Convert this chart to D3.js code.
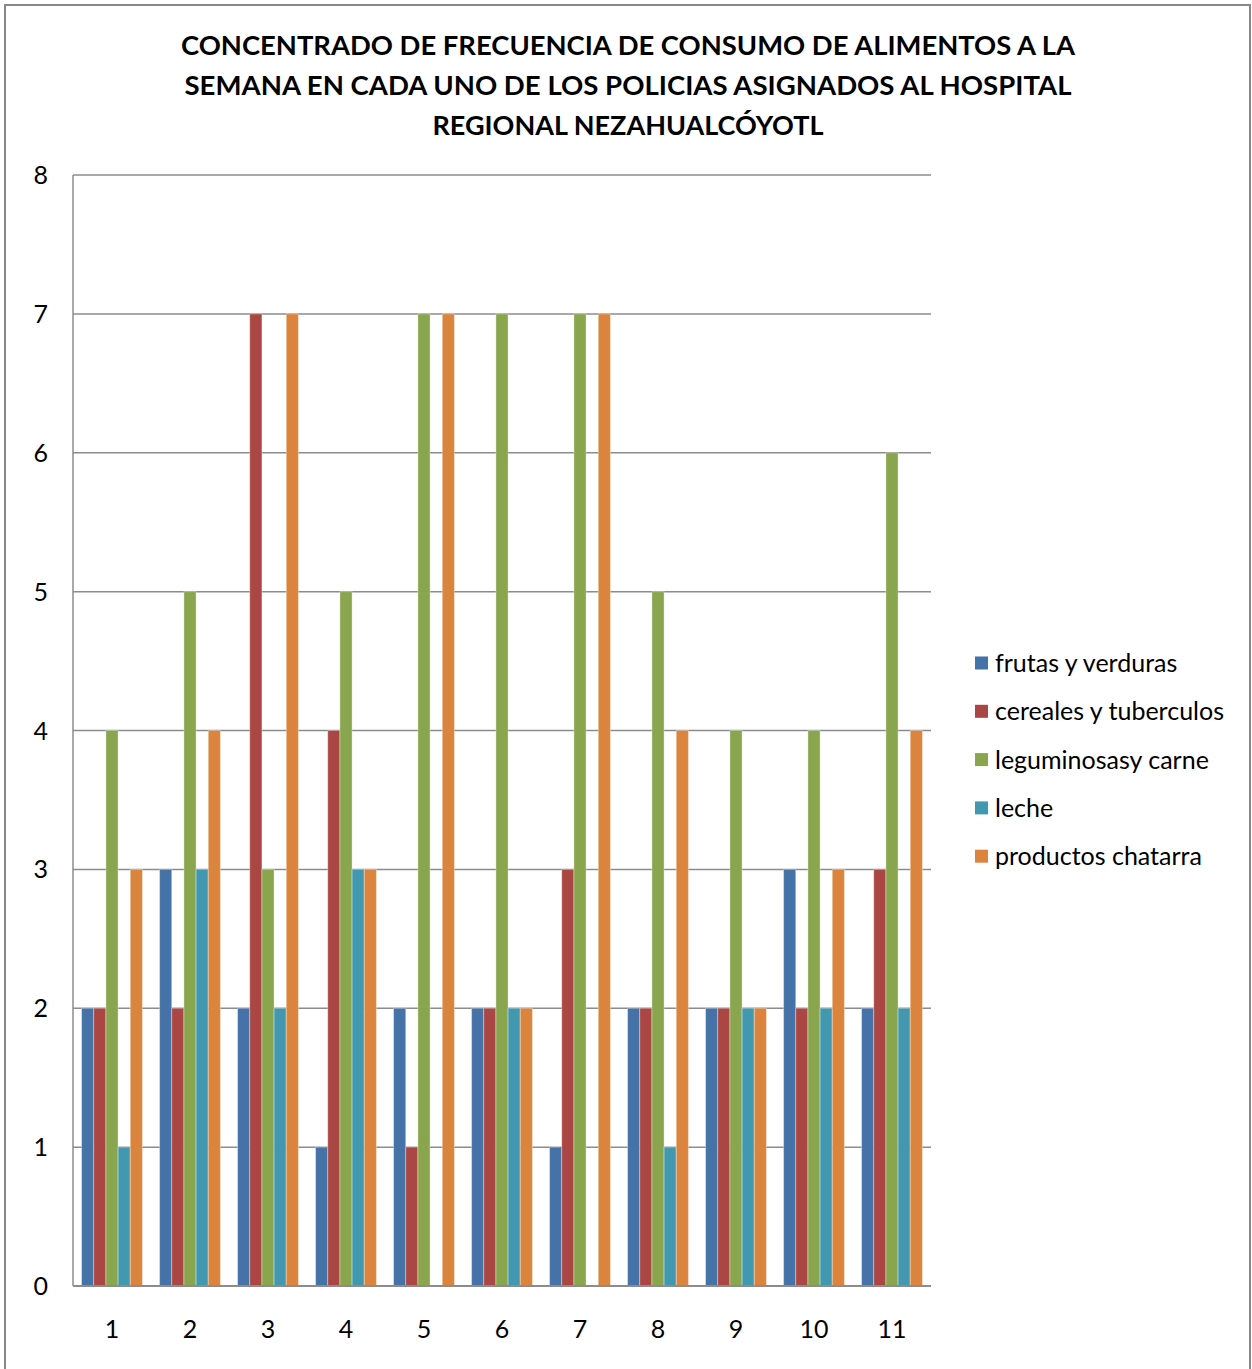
<!DOCTYPE html>
<html><head><meta charset="utf-8">
<script src="https://cdn.jsdelivr.net/npm/d3@7"></script>
<style>body{margin:0;background:#fff}svg{display:block}</style>
</head><body>
<svg id="c" width="1252" height="1369"></svg>
<script>
const categories = ["1","2","3","4","5","6","7","8","9","10","11"];
const seriesNames = ["frutas y verduras","cereales y tuberculos","leguminosasy carne","leche","productos chatarra"];
const frutas   = [2,3,2,1,2,2,1,2,2,3,2];
const cereales = [2,2,7,4,1,2,3,2,2,2,3];
const legumin  = [4,5,3,5,7,7,7,5,4,4,6];
const leche    = [1,3,2,3,0,2,0,1,2,2,2];
const chatarra = [3,4,7,3,7,2,7,4,2,3,4];
const yTicks = [0,1,2,3,4,5,6,7,8];
const titleLines = ["CONCENTRADO DE FRECUENCIA DE CONSUMO DE ALIMENTOS A LA","SEMANA EN CADA UNO DE LOS POLICIAS ASIGNADOS AL HOSPITAL","REGIONAL NEZAHUALCÓYOTL"];
const colors = ["#4572A7","#AA4643","#89A54E","#4198AF","#DB843D"];
const seriesVals = [frutas,cereales,legumin,leche,chatarra];

const svg = d3.select("#c");
const font = "Lato, 'Open Sans', 'Liberation Sans', sans-serif";
// outer border
svg.append("rect").attr("x",5).attr("y",5).attr("width",1245).attr("height",1375)
  .attr("fill","none").attr("stroke","#888").attr("stroke-width",2);

const L=73,R=931,T=175,B=1286;
const x = d3.scaleBand().domain(categories).range([L,R]).paddingInner(0.22).paddingOuter(0.11);
const x1 = d3.scaleBand().domain(d3.range(5)).range([0,x.bandwidth()]);
const y = d3.scaleLinear().domain([0,8]).range([B,T]);

// gridlines
svg.append("g").selectAll("line").data(yTicks).join("line")
  .attr("x1",L).attr("x2",R).attr("y1",d=>y(d)).attr("y2",d=>y(d))
  .attr("stroke","#8c8c8c").attr("stroke-width",1.5);

// bars
const data = [];
categories.forEach((c,i)=>seriesVals.forEach((s,j)=>data.push({c,j,v:s[i]})));
svg.append("g").selectAll("rect").data(data.filter(d=>d.v>0)).join("rect")
  .attr("x",d=>x(d.c)+x1(d.j)).attr("width",x1.bandwidth())
  .attr("y",d=>y(d.v)).attr("height",d=>y(0)-y(d.v))
  .attr("fill",d=>colors[d.j]).attr("stroke","rgba(255,255,255,0.35)").attr("stroke-width",1);

// axes lines
svg.append("line").attr("x1",L).attr("x2",L).attr("y1",T).attr("y2",B).attr("stroke","#8c8c8c").attr("stroke-width",1.5);
svg.append("line").attr("x1",L).attr("x2",R).attr("y1",B).attr("y2",B).attr("stroke","#8c8c8c").attr("stroke-width",2);

// y labels
svg.append("g").selectAll("text").data(yTicks).join("text")
  .attr("x",48).attr("y",d=>y(d)).attr("dy","0.36em").attr("text-anchor","end")
  .attr("font-family",font).attr("font-size",25).attr("fill","#000").text(d=>d);
// x labels
svg.append("g").selectAll("text").data(categories).join("text")
  .attr("x",d=>x(d)+x.bandwidth()/2).attr("y",1329).attr("dy","0.36em").attr("text-anchor","middle")
  .attr("font-family",font).attr("font-size",25).attr("fill","#000").text(d=>d);

// title
const tw = [894, 887, 391];
svg.append("g").selectAll("text").data(titleLines).join("text")
  .attr("x",628).attr("y",(d,i)=>45+i*40).attr("dy","0.36em").attr("text-anchor","middle")
  .attr("font-family",font).attr("font-weight","bold").attr("font-size",27).attr("fill","#000")
  .attr("textLength",(d,i)=>tw[i]).attr("lengthAdjust","spacingAndGlyphs").text(d=>d);

// legend
const lg = svg.append("g");
seriesNames.forEach((n,i)=>{
  const cy = 663 + i*48.3;
  lg.append("rect").attr("x",975).attr("y",cy-6.5).attr("width",13).attr("height",13).attr("fill",colors[i]);
  lg.append("text").attr("x",995).attr("y",cy).attr("dy","0.36em")
    .attr("font-family",font).attr("font-size",25).attr("fill","#000").text(n);
});
</script>
</body></html>
